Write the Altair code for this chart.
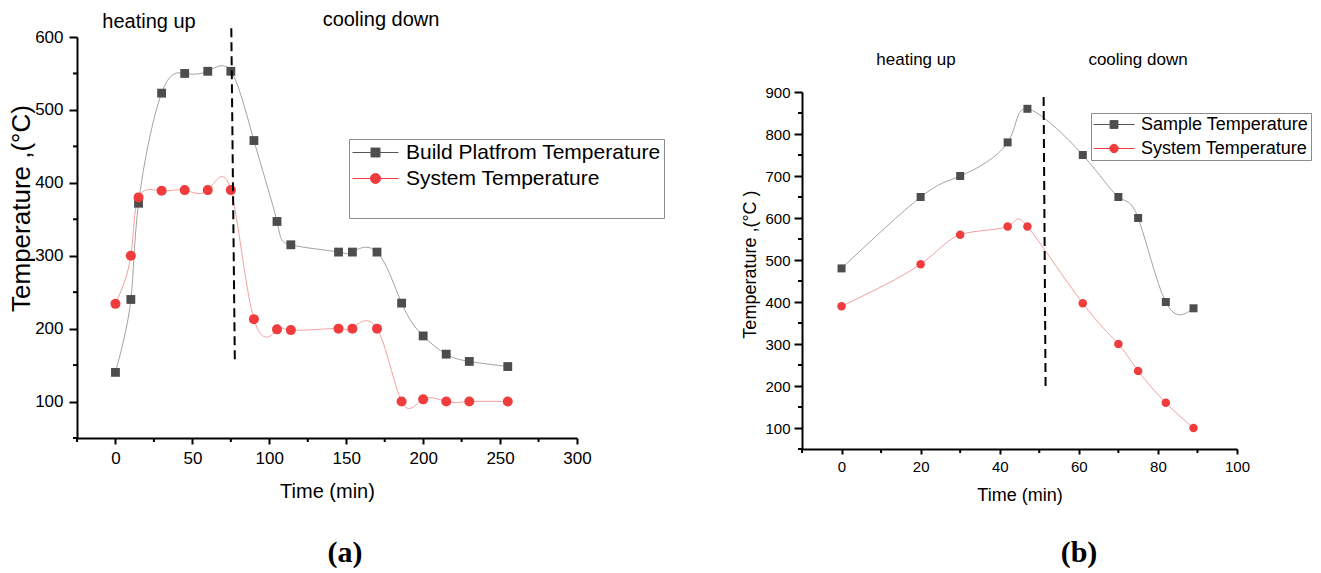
import altair as alt
import pandas as pd

# ---------------- data: panel (a) ----------------
a_time = [0, 10, 15, 30, 45, 60, 75, 90, 105, 114, 145, 154, 170, 186, 200, 215, 230, 255]
a_platform = [140, 240, 372, 523, 550, 553, 553, 458, 347, 315, 305, 305, 305, 235, 190, 165, 155, 148]
a_system = [234, 300, 380, 389, 390, 390, 390, 213, 199, 198, 200, 200, 200, 100, 103, 100, 100, 100]
a_names = ["Build Platfrom Temperature", "System Temperature"]
a_x_major = [0, 50, 100, 150, 200, 250, 300]
a_x_minor = [-25, 25, 75, 125, 175, 225, 275]
a_y_major = [100, 200, 300, 400, 500, 600]
a_y_minor = [50, 150, 250, 350, 450, 550]
a_divider_t = [75.3, 77.6]
a_divider_v = [612, 153]

# ---------------- data: panel (b) ----------------
b_time = [0, 20, 30, 42, 47, 61, 70, 75, 82, 89]
b_sample = [480, 650, 700, 780, 860, 750, 650, 600, 400, 385]
b_system = [390, 490, 560, 580, 580, 397, 300, 236, 160, 100]
b_names = ["Sample Temperature", "System Temperature"]
b_x_major = [0, 20, 40, 60, 80, 100]
b_x_minor = [-10, 10, 30, 50, 70, 90]
b_y_major = [100, 200, 300, 400, 500, 600, 700, 800, 900]
b_y_minor = [50, 150, 250, 350, 450, 550, 650, 750, 850]
b_divider_t = [51.1, 51.6]
b_divider_v = [888, 191]

FONT = "Liberation Sans"
GRAY_PT, GRAY_LN = "#4d4d4d", "#a3a3a3"
RED_PT, RED_LN = "#f03c3c", "#f4a0a0"
LEG_STROKE = ["#555555", "#f03c3c"]
dummy = pd.DataFrame({"d": [0]})


def panel(cfg):
    w, h = cfg["w"], cfg["h"]
    xs = alt.Scale(domain=cfg["xdom"], nice=False, zero=False)
    ys_kw = dict(domain=cfg["ydom"], nice=False, zero=False)
    if cfg.get("yrange"):
        ys_kw["range"] = cfg["yrange"]
    ys = alt.Scale(**ys_kw)
    common = dict(domainColor="black", domainWidth=2, tickColor="black", tickWidth=2,
                  grid=False, labelFont=FONT, labelColor="black", titleFont=FONT,
                  titleFontWeight="normal", titleColor="black", labelFlush=False,
                  labelOverlap=False, labelFontSize=cfg["fs_lab"])
    xaxis = alt.Axis(values=cfg["xmaj"], tickSize=cfg["xtick"], labelPadding=cfg["xlp"],
                     titleFontSize=cfg["fs_xt"], titleY=cfg["xty"], titleBaseline="middle",
                     format="d", **common)
    yaxis = alt.Axis(values=cfg["ymaj"], tickSize=cfg["ytick"], labelPadding=cfg["ylp"],
                     titleFontSize=cfg["fs_yt"], titleX=cfg["ytx"], titleY=cfg["yty"],
                     titleBaseline="middle", titleAngle=270, format="d", **common)

    def X(f):
        return alt.X(f, type="quantitative", scale=xs, axis=xaxis, title=cfg["xtitle"])

    def Y(f):
        return alt.Y(f, type="quantitative", scale=ys, axis=yaxis, title=cfg["ytitle"])

    df = pd.DataFrame({"t": cfg["time"], "s1": cfg["s1"], "s2": cfg["s2"]})
    base = alt.Chart(df)
    line1 = base.mark_line(color=GRAY_LN, strokeWidth=1, interpolate="natural").encode(x=X("t"), y=Y("s1"))
    line2 = base.mark_line(color=RED_LN, strokeWidth=1, interpolate="natural").encode(x=X("t"), y=Y("s2"))
    pts1 = base.mark_point(shape="square", filled=True, opacity=1, size=cfg["sq"], color=GRAY_PT,
                           strokeWidth=0).encode(x=X("t"), y=Y("s1"))
    pts2 = base.mark_point(shape="circle", filled=True, opacity=1, size=cfg["ci"], color=RED_PT,
                           strokeWidth=0).encode(x=X("t"), y=Y("s2"))

    xminor = alt.Chart(pd.DataFrame({"v": cfg["xmin"]})).mark_rule(color="black", strokeWidth=2).encode(
        x=X("v"), y=alt.value(h), y2=alt.value(h + 4))
    yminor = alt.Chart(pd.DataFrame({"v": cfg["ymin"]})).mark_rule(color="black", strokeWidth=2).encode(
        y=Y("v"), x=alt.value(0), x2=alt.value(-4))

    div = alt.Chart(pd.DataFrame({"t": [cfg["div_t"][0]], "t2": [cfg["div_t"][1]],
                                  "v": [cfg["div_v"][0]], "v2": [cfg["div_v"][1]]})).mark_rule(
        color="black", strokeWidth=2, strokeDash=[9, 5]).encode(x=X("t"), x2="t2:Q", y=Y("v"), y2="v2:Q")

    notes = []
    for txt, px, py, fs, fnt, fw in cfg["notes"]:
        notes.append(alt.Chart(dummy).mark_text(text=txt, font=fnt, fontSize=fs, fontWeight=fw,
                                                color="black", align="center", baseline="middle").encode(
            x=alt.value(px), y=alt.value(py)))

    legend = alt.Legend(**cfg["legend"])
    leg = alt.Chart(pd.DataFrame({"series": cfg["names"]})).transform_filter("false").mark_point(
        filled=True, opacity=1).encode(
        fill=alt.Fill("series:N", scale=alt.Scale(domain=cfg["names"], range=[GRAY_PT, RED_PT]), legend=legend),
        stroke=alt.Stroke("series:N", scale=alt.Scale(domain=cfg["names"], range=LEG_STROKE), legend=legend),
        shape=alt.Shape("series:N", scale=alt.Scale(domain=cfg["names"], range=cfg["paths"]), legend=legend),
    )
    return alt.layer(line1, line2, pts1, pts2, xminor, yminor, div, *notes, leg).properties(width=w, height=h)


leg_common = dict(orient="none", labelFont=FONT, labelColor="black", labelLimit=600,
                  strokeColor="#8c8c8c", symbolStrokeWidth=1, symbolOpacity=1)

cfg_a = dict(
    w=500, h=401, xdom=[-25, 300], ydom=[50, 600], time=a_time, s1=a_platform, s2=a_system,
    names=a_names, xmaj=a_x_major, xmin=a_x_minor, ymaj=a_y_major, ymin=a_y_minor,
    div_t=a_divider_t, div_v=a_divider_v, xtitle="Time (min)", ytitle="Temperature ,(°C)",
    fs_lab=17, fs_xt=20, fs_yt=26, xtick=6, ytick=8, xlp=6, ylp=6, xty=53, ytx=-56, yty=171,
    sq=78, ci=100,
    notes=[("heating up", 72, -15, 20, FONT, "normal"), ("cooling down", 304, -17, 20, FONT, "normal"),
           ("(a)", 268, 516, 30, "Liberation Serif", "bold")],
    legend=dict(leg_common, title=" ", titleOrient="bottom", titleFontSize=20, titlePadding=6,
                legendX=272, legendY=102, labelFontSize=21, symbolSize=400, labelOffset=33,
                rowPadding=4, padding=3),
    paths=["M-1,0H3.6M0.85,-0.45H1.75V0.45H0.85Z",
           "M0.8,0A0.5,0.5 0 1 0 1.8,0A0.5,0.5 0 1 0 0.8,0ZM-1,0H3.6"],
)

cfg_b = dict(
    w=435, h=412, yrange=[412, 55], xdom=[-10, 100], ydom=[50, 900], time=b_time, s1=b_sample, s2=b_system,
    names=b_names, xmaj=b_x_major, xmin=b_x_minor, ymaj=b_y_major, ymin=b_y_minor,
    div_t=b_divider_t, div_v=b_divider_v, xtitle="Time (min)", ytitle="Temperature ,(°C )",
    fs_lab=15, fs_xt=18, fs_yt=18, xtick=5, ytick=8, xlp=5, ylp=4, xty=46, ytx=-52, yty=227,
    sq=64, ci=72,
    notes=[("heating up", 114, 23, 17, FONT, "normal"), ("cooling down", 336, 23, 17, FONT, "normal"),
           ("(b)", 277, 516, 30, "Liberation Serif", "bold")],
    legend=dict(leg_common, title=None, legendX=289, legendY=76, labelFontSize=18, symbolSize=324,
                labelOffset=29, rowPadding=5, padding=2),
    paths=["M-1,0H3.56M0.84,-0.44H1.72V0.44H0.84Z",
           "M0.81,0A0.47,0.47 0 1 0 1.75,0A0.47,0.47 0 1 0 0.81,0ZM-1,0H3.56"],
)

chart = alt.hconcat(panel(cfg_a), panel(cfg_b), spacing=225, bounds="flush").resolve_scale(
    fill="independent", stroke="independent", shape="independent"
).properties(padding={"left": 8, "top": 10, "right": 5, "bottom": 5}).configure_view(stroke=None)

chart.save("out.html", embed_options={"renderer": "svg", "actions": False})
